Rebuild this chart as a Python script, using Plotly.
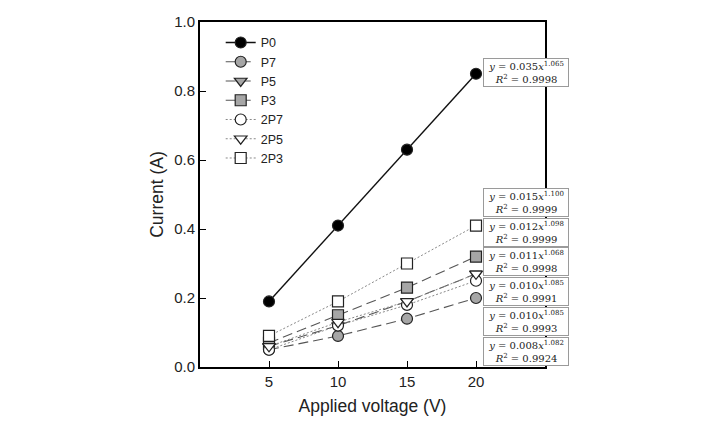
import plotly.graph_objects as go

voltage = [5, 10, 15, 20]
series_names = ["P0", "P7", "P5", "P3", "2P7", "2P5", "2P3"]
P0 = [0.19, 0.41, 0.63, 0.85]
P7 = [0.05, 0.09, 0.14, 0.20]
P5 = [0.06, 0.12, 0.19, 0.27]
P3 = [0.07, 0.15, 0.23, 0.32]
P2_7 = [0.05, 0.12, 0.18, 0.25]
P2_5 = [0.06, 0.13, 0.19, 0.27]
P2_3 = [0.09, 0.19, 0.30, 0.41]

fit_coef = ["0.035", "0.015", "0.012", "0.011", "0.010", "0.010", "0.008"]
fit_exp = ["1.065", "1.100", "1.098", "1.068", "1.085", "1.085", "1.082"]
fit_r2 = ["0.9998", "0.9999", "0.9999", "0.9998", "0.9991", "0.9993", "0.9924"]

x_ticks = [5, 10, 15, 20]
y_ticks = [0.0, 0.2, 0.4, 0.6, 0.8, 1.0]

values = [P0, P7, P5, P3, P2_7, P2_5, P2_3]
styles = [
    dict(symbol="circle", fill="black", dash="solid", lc="#111111", lw=1.4),
    dict(symbol="circle", fill="#a6a6a6", dash="10px,5px", lc="#555555", lw=1.1),
    dict(symbol="triangle-down", fill="#a6a6a6", dash="10px,5px", lc="#555555", lw=1.1),
    dict(symbol="square", fill="#a6a6a6", dash="10px,5px", lc="#555555", lw=1.1),
    dict(symbol="circle", fill="white", dash="2px,2px", lc="#888888", lw=1.0),
    dict(symbol="triangle-down", fill="white", dash="2px,2px", lc="#888888", lw=1.0),
    dict(symbol="square", fill="white", dash="2px,2px", lc="#888888", lw=1.0),
]

fig = go.Figure()
for name, vals, st in zip(series_names, values, styles):
    fig.add_trace(go.Scatter(
        x=voltage, y=vals, name=name, mode="lines+markers",
        line=dict(color=st["lc"], width=st["lw"], dash=st["dash"]),
        marker=dict(symbol=st["symbol"], size=11, color=st["fill"],
                    line=dict(color="#222222", width=1.2)),
    ))

box_y = [72.5, 202, 232, 261.5, 291.5, 321.5, 351]
for coef, ex, r2, py in zip(fit_coef, fit_exp, fit_r2, box_y):
    fig.add_annotation(
        xref="paper", yref="paper", x=(525.5 - 200) / 345, y=(367 - py) / 345,
        text=f"<i>y</i> = {coef}<i>x</i><sup>{ex}</sup><br><i>R</i><sup>2</sup> = {r2}",
        showarrow=False, align="center",
        font=dict(family="DejaVu Serif", size=10, color="#222222"),
        bgcolor="white", bordercolor="#9a9a9a", borderwidth=1, borderpad=1,
        width=82, height=25, xanchor="center", yanchor="middle",
    )

fig.update_layout(
    width=719, height=422,
    margin=dict(l=200, r=174, t=22, b=55),
    paper_bgcolor="white", plot_bgcolor="white",
    font=dict(family="Arial, Liberation Sans, sans-serif", size=15, color="#222222"),
    legend=dict(x=0.06, y=0.983, xanchor="left", yanchor="top",
                bgcolor="rgba(0,0,0,0)", font=dict(size=12.5), itemwidth=30,
                tracegroupgap=0),
    xaxis=dict(range=[0, 25], tickvals=x_ticks, ticks="inside", ticklen=6,
               tickcolor="black", showline=True, linecolor="black", linewidth=2,
               mirror=True, showgrid=False, zeroline=False, automargin=False,
               title=dict(text="Applied voltage (V)", font=dict(size=17.5), standoff=11)),
    yaxis=dict(range=[0, 1.0], tickvals=y_ticks, tickformat=".1f", ticks="inside",
               ticklen=6, tickcolor="black", showline=True, linecolor="black",
               linewidth=2, mirror=True, showgrid=False, zeroline=False, automargin=False,
               title=dict(text="Current (A)", font=dict(size=17.5), standoff=6)),
)

fig.write_html("out.html")
